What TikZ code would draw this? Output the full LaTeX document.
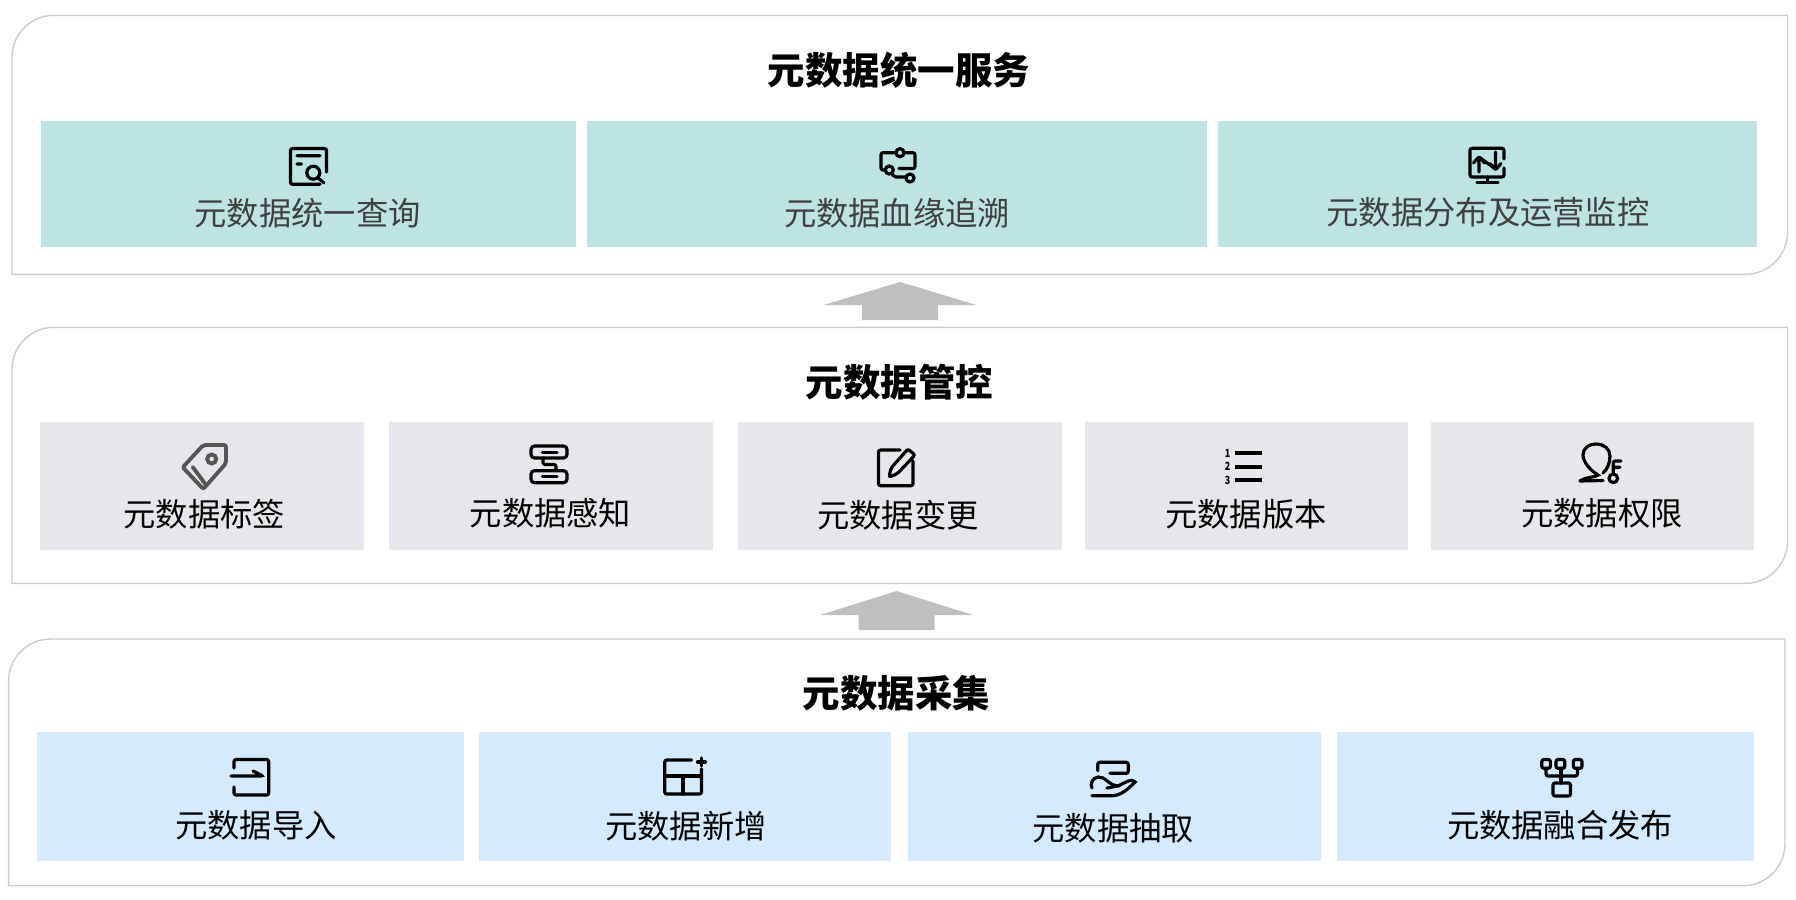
\documentclass[tikz,border=0pt]{standalone}
\usepackage{fontspec}
\setmainfont{Noto Sans CJK SC}
\usetikzlibrary{positioning,calc}
\definecolor{tealbox}{HTML}{BCE4E2}
\definecolor{greybox}{HTML}{E8E6EB}
\definecolor{bluebox}{HTML}{D4EBFE}
\definecolor{panelgrey}{HTML}{CCCCCC}
\definecolor{arrowgrey}{HTML}{BFBFBF}
\definecolor{labelgrey}{HTML}{404040}
\definecolor{taggrey}{HTML}{555555}
\tikzset{
    panelline/.style={draw=panelgrey, line width=0.4pt},
    cardbox/.style={inner sep=0pt, outer sep=0pt},
    titletext/.style={font=\fontsize{10.65pt}{12pt}\selectfont\bfseries, text=black, inner sep=0pt},
    cardtext/.style={font=\fontsize{9.18pt}{11pt}\selectfont, text=black, inner sep=0pt},
    iconline/.style={draw=black, line width=0.9pt, rounded corners=0.6pt, line cap=round},
    tinynum/.style={font=\fontsize{3.2pt}{3.4pt}\selectfont\bfseries, inner sep=0pt, xscale=0.8}
}
\newcommand{\layerpanel}[4]{%
    \draw[panelline] (#1,#4) [rounded corners=0.42cm] -- (#1,#3) [sharp corners] -- (#2,#3)
        [rounded corners=0.42cm] -- (#2,#4) [sharp corners] -- cycle;
}
\newcommand{\uparrowshape}[4]{%
    \fill[arrowgrey] (#1,#2) -- (#1+76.5,#3) -- (#1+38,#3) -- (#1+38,#4) -- (#1-38,#4)
        -- (#1-38,#3) -- (#1-76.5,#3) -- cycle;
}
\begin{document}
\begin{tikzpicture}[x=0.01cm, y=-0.01cm]
    \useasboundingbox (0,0) rectangle (1796,899);

    % Panels
    \layerpanel{12}{1787.5}{15.3}{274.3}
    \layerpanel{12}{1787.5}{327.3}{583.3}
    \layerpanel{8.6}{1785}{639}{885.7}

    % Block arrows
    \uparrowshape{900}{282}{305}{320}
    \uparrowshape{896.5}{591}{615}{630}

    % Titles
    \node[titletext] (titleservice) at (899,70) {元数据统一服务};
    \node[titletext] (titlecontrol) at (899.5,382.5) {元数据管控};
    \node[titletext] (titlecollect) at (896.5,693.5) {元数据采集};

    % Service row
    \foreach \name/\xa/\xb/\lx/\ly/\lab in {query/40.8/576/307.7/213/元数据统一查询,
        lineage/587/1207/897/213/元数据血缘追溯, monitor/1218/1757/1488/212/元数据分布及运营监控} {
        \node[cardbox, fill=tealbox, minimum width={(\xb-\xa)*0.01cm}, minimum height=1.26cm]
            (box\name) at ({(\xa+\xb)/2},184) {};
        \node[cardtext, text=labelgrey] (text\name) at (\lx,\ly) {\lab};
    }

    % Control row
    \foreach \name/\xa/\xb/\lx/\ly/\lab in {tag/40/364/204.4/514/元数据标签,
        sense/389/713/550.5/513/元数据感知, change/738/1062/898/515/元数据变更,
        version/1085/1408/1246/514/元数据版本, right/1431/1754/1602/513/元数据权限} {
        \node[cardbox, fill=greybox, minimum width={(\xb-\xa)*0.01cm}, minimum height=1.28cm]
            (box\name) at ({(\xa+\xb)/2},486) {};
        \node[cardtext] (text\name) at (\lx,\ly) {\lab};
    }

    % Collect row
    \foreach \name/\xa/\xb/\lx/\ly/\lab in {import/36.7/464/256/825/元数据导入,
        add/479/891/686/826/元数据新增, extract/908/1321/1113.4/828/元数据抽取,
        merge/1337/1754/1560/825/元数据融合发布} {
        \node[cardbox, fill=bluebox, minimum width={(\xb-\xa)*0.01cm}, minimum height=1.29cm]
            (box\name) at ({(\xa+\xb)/2},796.5) {};
        \node[cardtext] (text\name) at (\lx,\ly) {\lab};
    }

    % Icon: query
    \draw[iconline] (320,184.3) -- (290.5,184.3) -- (290.5,148.5) -- (326.5,148.5) -- (326.5,172);
    \draw[iconline] (297,155.7) -- (320,155.7) (297,164) -- (301.5,164) (318,178) -- (324,183);
    \draw[iconline] (313.3,172.7) circle (6.5);

    % Icon: lineage
    \draw[iconline] (896,152.7) -- (881,152.7) -- (881,170) -- (885,170);
    \draw[iconline] (904,152.7) -- (915,152.7) -- (915,168.5) -- (899,168.5);
    \draw[iconline] (889.3,170) circle (4) (900,152.7) circle (4) (910,178) circle (4);
    \draw[iconline] (892,174) -- (894,177) -- (906,177);

    % Icon: monitor
    \draw[iconline] (1504,159) -- (1504,148.3) -- (1470,148.3) -- (1470,177) -- (1504,177) -- (1504,168);
    \draw[iconline] (1479,172) -- (1479,157) -- (1495.5,169) -- (1495.5,152);
    \draw[iconline] (1473.5,163) -- (1479,156.5) -- (1484.5,163);
    \draw[iconline] (1490,163.5) -- (1495.5,170) -- (1501,163.5);
    \draw[iconline] (1487.5,177) -- (1487.5,182) (1477,182.5) -- (1498,182.5);

    % Icon: tag
    \draw[iconline, draw=taggrey, line width=1.1pt] (203.3,445) -- (226,445) -- (226,463.3) -- (203.3,489) -- (182.7,467.3) -- cycle;
    \draw[iconline, draw=taggrey, line width=1.1pt] (192.7,467) -- (206,485);
    \draw[iconline, draw=taggrey, line width=1.1pt] (211.7,459) circle (4.5);

    % Icon: sense
    \draw[iconline, rounded corners=1pt] (531,446) rectangle (567,458);
    \draw[iconline, rounded corners=1pt] (531,470.7) rectangle (567,482.7);
    \draw[iconline] (542.5,452.3) -- (557,452.3) (542.5,476.5) -- (557,476.5);
    \draw[iconline] (543,458) -- (543,464.5) -- (556,464.5) -- (556,470.7);

    % Icon: change
    \draw[iconline] (900,450) -- (878.5,450) -- (878.5,485.7) -- (913,485.7) -- (913,461);
    \draw[iconline] (889,477) -- (891,468) -- (908,449) -- (915,455) -- (897,474) -- cycle;

    % Icon: version
    \foreach \y/\num in {453.3/1, 466.7/2, 480/3} {
        \draw[black, line width=1.15pt] (1234.7,\y) -- (1262,\y);
        \node[tinynum] (num\num) at (1227.5,\y) {\num};
    }

    % Icon: right
    \draw[iconline, rounded corners=0pt] (1580,481) .. controls (1588,476) and (1594,478) .. (1598,475)
        .. controls (1590,470) and (1583,462) .. (1583,455)
        .. controls (1583,448) and (1589,444) .. (1596,444)
        .. controls (1604,444) and (1610,449) .. (1610,456)
        .. controls (1610,463) and (1607,470) .. (1603,473);
    \draw[iconline] (1580,481) -- (1603,480.5);
    \draw[iconline] (1613.3,478.3) circle (4.3);
    \draw[iconline] (1613.3,474) -- (1613.3,461) -- (1621,461) (1613.3,467.3) -- (1620,467.3);

    % Icon: import
    \draw[iconline] (234,768) -- (234,759.5) -- (268.7,759.5) -- (268.7,795) -- (234,795) -- (234,787);
    \draw[iconline] (231,776) -- (263,776) -- (253,771);

    % Icon: add
    \draw[iconline] (691.5,760) -- (664.7,760) -- (664.7,794) -- (701.5,794) -- (701.5,769);
    \draw[iconline] (664.7,776) -- (701.5,776) (683,776) -- (683,794);
    \draw[iconline] (697.5,762) -- (705.5,762) (701.5,758) -- (701.5,766);

    % Icon: extract
    \draw[iconline] (1097.7,770.7) -- (1097.7,762.3) -- (1128.3,762.3) -- (1128.3,773.3) -- (1110,773.3);
    \draw[iconline, rounded corners=0pt] (1092,795.7) -- (1112,795.7) .. controls (1122,795.7) and (1130,787) .. (1135,782)
        .. controls (1132,778) and (1126,782) .. (1118,786)
        .. controls (1108,785) and (1105,776) .. (1098,777)
        .. controls (1092,778) and (1090,784) .. (1092,788);
    \draw[iconline] (1107,788) -- (1118,786);

    % Icon: merge
    \foreach \xa/\xb in {1541.8/1550.4, 1556/1564.8, 1573.4/1582} {
        \draw[iconline] (\xa,759.5) rectangle (\xb,768.3);
    }
    \draw[iconline] (1546,768.3) -- (1546,776) -- (1577.5,776) -- (1577.5,768.3);
    \draw[iconline] (1561,768.3) -- (1561,783);
    \draw[iconline] (1553,783) rectangle (1570.5,796);
\end{tikzpicture}
\end{document}
